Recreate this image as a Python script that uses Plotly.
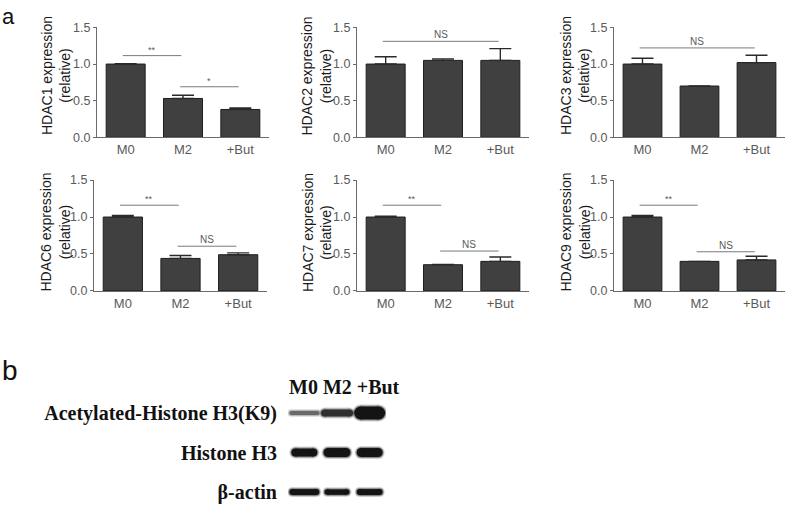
import plotly.graph_objects as go

W, H = 787, 507

# ---------------- data ----------------
groups = ["M0", "M2", "+But"]
genes = ["HDAC1", "HDAC2", "HDAC3", "HDAC6", "HDAC7", "HDAC9"]

hdac1 = [1.00, 0.53, 0.38]
hdac1_err = [0.005, 0.045, 0.02]
hdac2 = [1.00, 1.05, 1.05]
hdac2_err = [0.10, 0.02, 0.16]
hdac3 = [1.00, 0.70, 1.02]
hdac3_err = [0.08, 0.0, 0.10]
hdac6 = [1.00, 0.44, 0.49]
hdac6_err = [0.02, 0.04, 0.025]
hdac7 = [1.00, 0.355, 0.40]
hdac7_err = [0.01, 0.005, 0.06]
hdac9 = [1.00, 0.40, 0.42]
hdac9_err = [0.02, 0.0, 0.05]

values = [hdac1, hdac2, hdac3, hdac6, hdac7, hdac9]
errors = [hdac1_err, hdac2_err, hdac3_err, hdac6_err, hdac7_err, hdac9_err]

# significance brackets: (from group index, to group index, level, label)
sig1 = [(0, 1, 1.115, "**"), (1, 2, 0.69, "*")]
sig2 = [(0, 2, 1.31, "NS")]
sig3 = [(0, 2, 1.22, "NS")]
sig6 = [(0, 1, 1.16, "**"), (1, 2, 0.605, "NS")]
sig7 = [(0, 1, 1.16, "**"), (1, 2, 0.54, "NS")]
sig9 = [(0, 1, 1.16, "**"), (1, 2, 0.53, "NS")]
sigs = [sig1, sig2, sig3, sig6, sig7, sig9]

y_ticks = [0.0, 0.5, 1.0, 1.5]

# western blot (panel b)
blot_header = "M0 M2 +But"
blot_proteins = ["Acetylated-Histone H3(K9)", "Histone H3", "β-actin"]
blot_intensity = [[0.55, 0.85, 1.0], [1.0, 1.0, 1.0], [1.0, 1.0, 1.0]]
blot_thickness = [[4, 7, 13], [8, 9, 9], [6, 5.5, 6]]
blot_length = [[30, 32, 31], [26, 27, 26], [30, 25, 26]]

# ---------------- layout geometry (pixels) ----------------
col_x = [(97, 269), (357, 529), (614, 785), (94, 267), (357, 529), (614, 785)]
row_y = [(21, 134), (21, 134), (21, 134), (178, 292), (178, 292), (178, 292)]
title_x = [56, 316.5, 575, 55, 316.5, 575]
title_y = [71, 71, 71, 232, 232, 232]
blot_x = (288, 386)


def px_x(p):
    return p / W


def px_y(p):
    return 1 - p / H


fig = go.Figure()
layout = dict(
    width=W, height=H, margin=dict(l=0, r=0, t=0, b=0),
    paper_bgcolor="white", plot_bgcolor="white", showlegend=False,
)
shapes = []
annotations = []

GRAY_TXT = "#5a5a5a"
AX_COL = "#6a6a6a"

for i in range(6):
    n = "" if i == 0 else str(i + 1)
    xa, ya = "x" + n, "y" + n
    fig.add_trace(go.Bar(
        x=groups, y=values[i], xaxis=xa, yaxis=ya, width=0.68,
        marker=dict(color="#404040", line=dict(color="#1e1e1e", width=1)),
        error_y=dict(type="data", symmetric=False, array=errors[i],
                     arrayminus=[0] * 3, color="#2a2a2a", thickness=1.4, width=11),
        hoverinfo="skip",
    ))
    x0, x1 = col_x[i]
    y0, y1 = row_y[i]
    layout["xaxis" + n] = dict(
        domain=[px_x(x0), px_x(x1)], anchor=ya, type="category",
        categoryorder="array", categoryarray=groups, range=[-0.5, 2.5],
        showline=True, linecolor=AX_COL, linewidth=1, ticks="",
        showgrid=False, zeroline=False, fixedrange=True,
        tickfont=dict(family="Arial, Liberation Sans", size=13, color=GRAY_TXT),
    )
    layout["yaxis" + n] = dict(
        domain=[px_y(y1), px_y(y0)], anchor=xa, range=[0, 1.5],
        tickvals=y_ticks, tickformat=".1f",
        showline=True, linecolor=AX_COL, linewidth=1, ticks="outside",
        ticklen=3, tickcolor=AX_COL, showgrid=False, zeroline=False,
        tickfont=dict(family="Arial, Liberation Sans", size=12.5, color=GRAY_TXT),
    )
    annotations.append(dict(
        text=genes[i] + " expression<br>(relative)", textangle=-90,
        x=px_x(title_x[i]), y=px_y(title_y[i]), xref="paper", yref="paper",
        showarrow=False, xanchor="center", yanchor="middle",
        font=dict(family="Arial, Liberation Sans", size=14, color="#1a1a1a"),
    ))
    for (a, b, lev, lab) in sigs[i]:
        shapes.append(dict(type="line", xref=xa, yref=ya, x0=a - 0.05, x1=b - 0.03,
                           y0=lev, y1=lev, line=dict(color="#7a7a7a", width=1)))
        annotations.append(dict(
            text=lab, x=(a + b) / 2 - 0.04, y=lev, xref=xa, yref=ya, showarrow=False,
            yanchor="bottom", yshift=-1,
            font=dict(family="Arial, Liberation Sans",
                      size=10 if lab == "NS" else 9, color=GRAY_TXT),
        ))

# ---------------- blot panel ----------------
px_per_lane = (blot_x[1] - blot_x[0]) / 3.0
for r, prot in enumerate(blot_proteins):
    for c, g in enumerate(groups):
        it = blot_intensity[r][c]
        lv = int(20 + (1 - it) * 190)
        t = blot_thickness[r][c]
        col = "rgb(%d,%d,%d)" % (lv, lv, lv)
        # soft halo then core band (round ends via end markers)
        for extra, op in [(4, 0.18), (2, 0.35), (0, 1.0)]:
            half = (blot_length[r][c] - t) / 2.0 / px_per_lane
            fig.add_trace(go.Scatter(
                x=[c - half, c + half], y=[r, r],
                xaxis="x7", yaxis="y7", mode="lines+markers", opacity=op,
                line=dict(color=col, width=t + extra),
                marker=dict(color=col, size=t + extra, line=dict(width=0)),
                hoverinfo="skip",
            ))

layout["xaxis7"] = dict(
    domain=[px_x(blot_x[0]), px_x(blot_x[1])], anchor="y7",
    range=[-0.5, 2.5], showticklabels=False,
    showline=False, showgrid=False, zeroline=False, ticks="",
)
layout["yaxis7"] = dict(
    domain=[0, px_y(398)], anchor="x7",
    tickvals=[0, 1, 2], ticktext=blot_proteins, range=[2.2, -0.48],
    showline=False, showgrid=False, zeroline=False, ticks="",
    ticklabelstandoff=10,
    tickfont=dict(family="Liberation Serif, Times New Roman", size=20,
                  color="#111", weight="bold"),
)
annotations.append(dict(
    text=blot_header, x=px_x(287), y=px_y(391), xref="paper", yref="paper",
    showarrow=False, xanchor="left", yanchor="middle",
    font=dict(family="Liberation Serif, Times New Roman", size=20,
              color="#111", weight="bold"),
))

# panel letters
annotations.append(dict(text="a", x=0, y=px_y(10), xref="paper", yref="paper",
                        showarrow=False, xanchor="left", yanchor="middle",
                        font=dict(family="Liberation Sans, Arial", size=22, color="#111")))
annotations.append(dict(text="b", x=0, y=px_y(356), xref="paper", yref="paper",
                        showarrow=False, xanchor="left", yanchor="top",
                        font=dict(family="Liberation Sans, Arial", size=28, color="#111")))

layout["shapes"] = shapes
layout["annotations"] = annotations
fig.update_layout(**layout)
fig.write_html("out.html", config={"displayModeBar": False},
               post_script="document.body.style.margin='0';document.body.style.overflow='hidden';")
